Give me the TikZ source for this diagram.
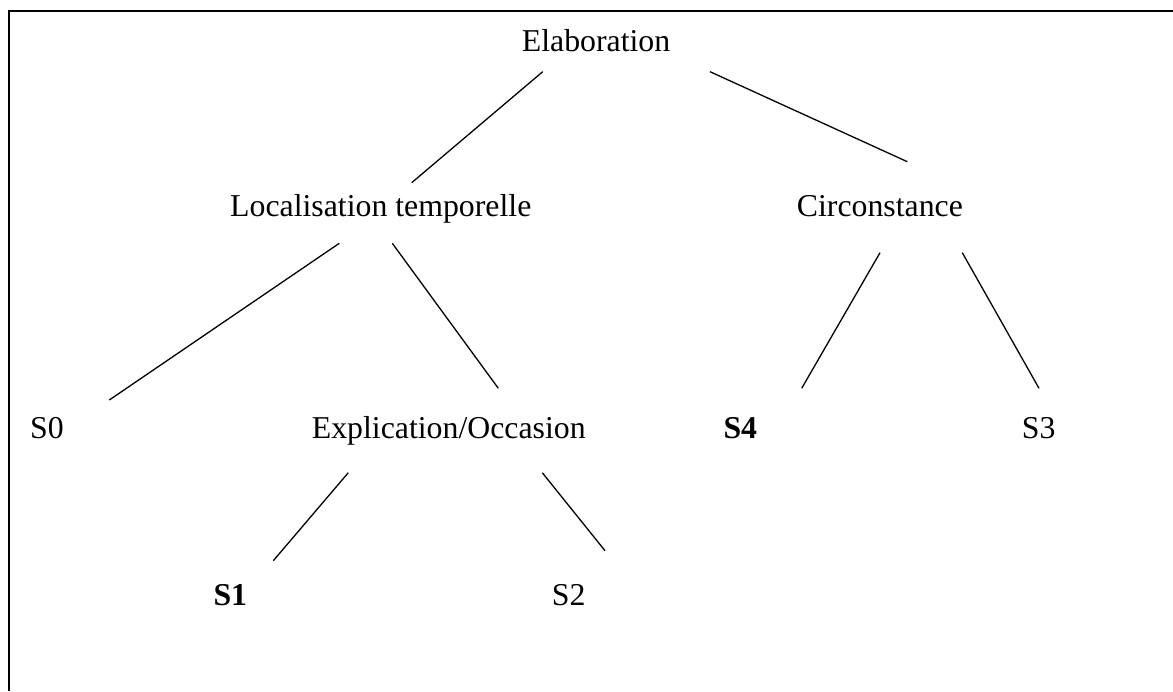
\documentclass[tikz,border=0pt]{standalone}
\usepackage{fontspec}
\setmainfont{Liberation Serif}
\usepackage{tikz}
\tikzset{
  rel/.style={inner sep=0pt, anchor=base west, font=\fontsize{31.8}{38}\selectfont},
  branch/.style={line width=1.3pt},
}

\begin{document}
\begin{tikzpicture}[x=1pt,y=-1pt]
      \useasboundingbox (0,0) rectangle (1173,691);
      \draw[line width=2pt] (9,691) -- (9,11) -- (1173,11);
      \node[rel] at (521.7,51.7) (elab) {Elaboration};
      \node[rel] at (230,216.7) (loc) {Localisation temporelle};
      \node[rel] at (796.7,216.7) (circ) {Circonstance};
      \node[rel] at (30,438.3) (s0) {S0};
      \node[rel] at (311.7,438.3) (expl) {Explication/Occasion};
      \node[rel] at (723.3,438.3) (s4) {\textbf{S4}};
      \node[rel] at (1021.7,438.3) (s3) {S3};
      \node[rel] at (213.3,605) (s1) {\textbf{S1}};
      \node[rel] at (551.7,605) (s2) {S2};
      \coordinate (elab-l) at (542.7,71.7);
      \coordinate (elab-r) at (710,71.7);
      \coordinate (loc-up) at (411.7,182.7);
      \coordinate (loc-l) at (339.3,243.3);
      \coordinate (loc-r) at (392.3,243.3);
      \coordinate (circ-up) at (907.3,161.7);
      \coordinate (circ-l) at (880,252.7);
      \coordinate (circ-r) at (962.3,252.7);
      \coordinate (s0-up) at (109.3,400);
      \coordinate (expl-up) at (498.3,388.3);
      \coordinate (expl-l) at (348.3,472.7);
      \coordinate (expl-r) at (542.3,472.7);
      \coordinate (s4-up) at (801.7,388.3);
      \coordinate (s3-up) at (1039,388.3);
      \coordinate (s1-up) at (273.3,560.7);
      \coordinate (s2-up) at (605,550.7);
      \draw[branch] (elab-l) -- (loc-up);
      \draw[branch] (elab-r) -- (circ-up);
      \draw[branch] (loc-l) -- (s0-up);
      \draw[branch] (loc-r) -- (expl-up);
      \draw[branch] (circ-l) -- (s4-up);
      \draw[branch] (circ-r) -- (s3-up);
      \draw[branch] (expl-l) -- (s1-up);
      \draw[branch] (expl-r) -- (s2-up);
    \end{tikzpicture}
\end{document}
